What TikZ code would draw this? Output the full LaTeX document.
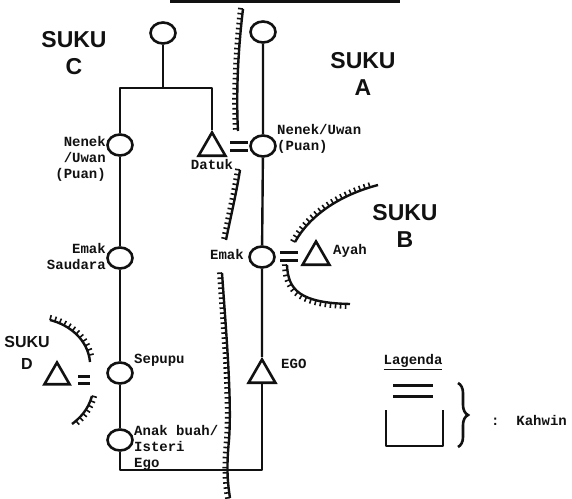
\documentclass[tikz,border=0pt]{standalone}
\usepackage{fontspec}
\setmonofont{Liberation Mono}
\setsansfont{Liberation Sans}
\usepackage{tikz}
\usetikzlibrary{shapes.geometric,decorations.pathreplacing,positioning}
\definecolor{tinta}{HTML}{111111}
\tikzset{
  garis/.style={draw=tinta, line width=2.4pt, line join=round},
  pr/.style={ellipse, draw=tinta, line width=2.6pt, minimum width=25pt, minimum height=21pt, inner sep=0pt},
  lk/.style={regular polygon, regular polygon sides=3, draw=tinta, line width=2.6pt, minimum size=31pt, inner sep=0pt},
  kahwin/.style={minimum width=18pt, minimum height=11pt, inner sep=0pt,
    path picture={\draw[tinta, line width=3pt]
      ([yshift=-1.5pt]path picture bounding box.north west) -- ([yshift=-1.5pt]path picture bounding box.north east)
      ([yshift=1.5pt]path picture bounding box.south west) -- ([yshift=1.5pt]path picture bounding box.south east);}},
  lab/.style={text=tinta, font=\ttfamily\bfseries\fontsize{14}{16}\selectfont, inner sep=0pt},
  suku/.style={text=tinta, font=\sffamily\bfseries\fontsize{23}{27}\selectfont, align=center, inner sep=0pt},
  pagar/.style={draw=tinta, line width=2.4pt,
    postaction={draw=tinta, line width=1.6pt, decorate,
      decoration={border, segment length=5pt, amplitude=#1, angle=90}}},
}
\begin{document}
\begin{tikzpicture}[x=1pt, y=-1pt]
\useasboundingbox (0,0) rectangle (572,498);
\draw[tinta, line width=3pt] (170,1.5) -- (400,1.5);
% orang
\node[pr] (atasC) at (163,33) {};
\node[pr] (atasA) at (263,32) {};
\node[pr] (nenekC) at (120,145) {};
\node[lk] (datuk) at (212,148) {};
\node[kahwin] (kw1) at (239,146) {};
\node[pr] (nenekA) at (263,146) {};
\node[pr] (emakS) at (120,258) {};
\node[pr] (emakA) at (262,257) {};
\node[kahwin] (kw2) at (289,256) {};
\node[lk] (ayah) at (316,257) {};
\node[pr] (sepupu) at (120,373) {};
\node[kahwin, minimum width=12pt, minimum height=10pt] (kw3) at (84,380) {};
\node[lk, minimum size=29pt] (dlk) at (57,377) {};
\node[lk] (ego) at (262,375) {};
\node[pr] (anak) at (120,440) {};
\coordinate (cabang) at (163,88);
\coordinate (bawah) at (190,470);
% garis keturunan
\draw[garis] (atasC) -- (cabang);
\draw[garis] (nenekC) |- (cabang) -| (datuk);
\draw[garis] (nenekC) -- (emakS) -- (sepupu) -- (anak);
\draw[garis] (anak) |- (bawah) -| (ego);
\draw[garis] (atasA) -- (nenekA) -- (emakA) -- (ego);
% label
\node[lab, align=right, anchor=east] (tNenekC) at (106,159) {Nenek\\/Uwan\\(Puan)};
\node[lab] (tDatuk) at (212,164) {Datuk};
\node[lab, align=left, anchor=west] (tNenekA) at (277,139) {Nenek/Uwan\\(Puan)};
\node[lab, anchor=east] (tEmakA) at (244,254) {Emak};
\node[lab, anchor=west] (tAyah) at (333,251) {Ayah};
\node[lab, anchor=west] (tEgo) at (281,364) {EGO};
\node[lab, align=right, anchor=east] (tEmakS) at (106,256) {Emak\\Saudara};
\node[lab, anchor=west] (tSepupu) at (134,360) {Sepupu};
\node[lab, align=left, anchor=west] (tAnak) at (134,448) {Anak buah/\\Isteri\\Ego};
% suku
\node[suku] (sukuC) at (74,53) {SUKU\\C};
\node[suku] (sukuA) at (363,74) {SUKU\\A};
\node[suku] (sukuB) at (405,226) {SUKU\\B};
\node[suku, font=\sffamily\bfseries\fontsize{16}{22}\selectfont] (sukuD) at (27,353) {SUKU\\D};
% batas suku
\draw[pagar=-5pt] (243,9) .. controls (238,50) and (236,95) .. (238,131);
\draw[pagar=-5pt] (240,170) .. controls (236,195) and (230,220) .. (226,240);
\draw[pagar=-5pt] (222,273) .. controls (226,330) and (232,400) .. (229,440) .. controls (226,470) and (228,485) .. (230,498);
\draw[pagar=5pt] (295,242) .. controls (310,215) and (340,195) .. (378,185);
\draw[pagar=-5pt] (287,265) .. controls (288,290) and (300,303) .. (350,304);
\draw[pagar=5pt] (50,320) .. controls (70,325) and (88,340) .. (90,362);
\draw[pagar=5pt] (92,396) .. controls (88,410) and (80,418) .. (72,424);
% lagenda
\node[lab] (lagenda) at (413,362) {\underline{Lagenda}};
\node[kahwin, minimum width=40pt, minimum height=14pt] (kwL) at (413,391) {};
\draw[garis] (386,410) |- (443,446) -- (443,410);
\draw[tinta, line width=2.6pt, decorate, decoration={brace, amplitude=10pt}] (458,383) -- (458,447);
\node[lab, anchor=west] (tKahwin) at (491,420) {:~~Kahwin};
\end{tikzpicture}
\end{document}
